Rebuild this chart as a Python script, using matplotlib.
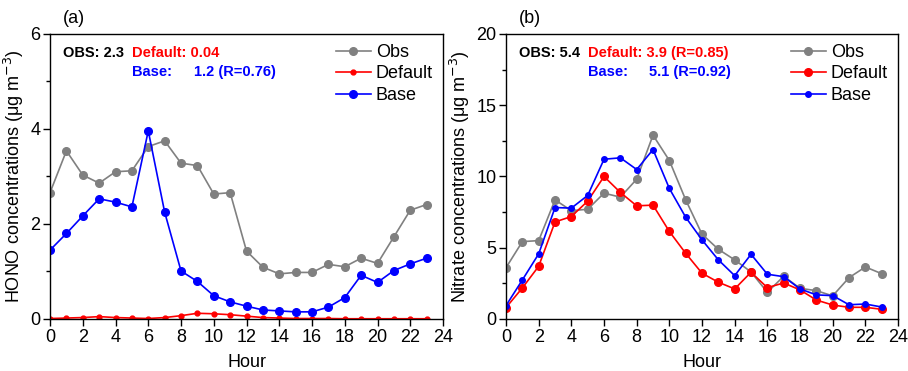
import numpy as np
import matplotlib
matplotlib.use("Agg")
import matplotlib.pyplot as plt
from matplotlib.ticker import MultipleLocator

plt.rcParams['font.family'] = ['Liberation Sans', 'DejaVu Sans']

hours = np.arange(24)

# (a) HONO
hono_obs = [2.66, 3.54, 3.03, 2.86, 3.10, 3.12, 3.63, 3.75, 3.28, 3.23, 2.63, 2.66,
            1.43, 1.09, 0.95, 0.98, 0.98, 1.15, 1.10, 1.28, 1.17, 1.73, 2.29, 2.41]
hono_default = [0.01, 0.02, 0.03, 0.05, 0.03, 0.02, 0.01, 0.03, 0.07, 0.12, 0.11, 0.09,
                0.06, 0.03, 0.02, 0.01, 0.01, 0.01, 0.005, 0.005, 0.005, 0.005, 0.005, 0.005]
hono_base = [1.45, 1.80, 2.17, 2.53, 2.46, 2.36, 3.96, 2.25, 1.01, 0.79, 0.49, 0.36,
             0.27, 0.19, 0.17, 0.15, 0.15, 0.25, 0.45, 0.92, 0.77, 1.02, 1.16, 1.28]

# (b) nitrate
no3_obs = [3.6, 5.43, 5.5, 8.36, 7.6, 7.7, 8.83, 8.55, 9.81, 12.9, 11.12, 8.36,
           5.95, 4.89, 4.15, 3.3, 1.87, 3.0, 2.15, 1.99, 1.62, 2.9, 3.65, 3.18]
no3_default = [0.8, 2.18, 3.7, 6.81, 7.19, 8.27, 10.0, 8.88, 7.94, 7.99, 6.14, 4.61,
               3.21, 2.58, 2.11, 3.28, 2.2, 2.53, 2.04, 1.33, 0.98, 0.82, 0.82, 0.68]
no3_base = [0.94, 2.74, 4.57, 7.82, 7.78, 8.67, 11.21, 11.31, 10.49, 11.89, 9.16, 7.14,
            5.55, 4.15, 3.04, 4.54, 3.14, 2.97, 2.11, 1.69, 1.64, 1.0, 1.05, 0.84]

GRAY, RED, BLUE = '#808080', '#ff0000', '#0000ff'

fig = plt.figure(figsize=(9.08, 3.71), dpi=100)
ax1 = fig.add_axes([0.0551, 0.1402, 0.4328, 0.7682])
ax2 = fig.add_axes([0.5573, 0.1402, 0.4317, 0.7682])


def style(ax, ymax, ymajor, ylabel):
    ax.set_xlim(0, 24)
    ax.set_ylim(0, ymax)
    ax.xaxis.set_major_locator(MultipleLocator(2))
    ax.yaxis.set_major_locator(MultipleLocator(ymajor))
    ax.yaxis.set_minor_locator(MultipleLocator(ymajor / 2))
    ax.tick_params(which='both', direction='out', top=False, right=False,
                   labelsize=13, width=1)
    ax.tick_params(which='major', length=5, pad=2)
    ax.tick_params(which='minor', length=3)
    for s in ax.spines.values():
        s.set_linewidth(1)
    ax.set_xlabel('Hour', fontsize=13, labelpad=6)
    ax.set_ylabel(ylabel, fontsize=13, labelpad=3)


def notes(ax, obs, default, base_val):
    kw = dict(transform=ax.transAxes, fontsize=10.5, fontweight='bold', va='center')
    ax.text(0.033, 0.933, obs, **kw)
    ax.text(0.209, 0.933, default, color=RED, **kw)
    ax.text(0.209, 0.867, 'Base:', color=BLUE, **kw)
    ax.text(0.366, 0.867, base_val, color=BLUE, **kw)
    ax.legend(loc='upper right', frameon=False, fontsize=13, handlelength=1.9,
              handletextpad=0.3, labelspacing=0.25, borderaxespad=0.15)


# panel (a)
ax1.plot(hours, hono_obs, '-o', color=GRAY, lw=1.2, ms=5.5, label='Obs')
ax1.plot(hours, hono_default, '-o', color=RED, lw=1.2, ms=3.5, label='Default')
ax1.plot(hours, hono_base, '-o', color=BLUE, lw=1.2, ms=5.5, label='Base')
style(ax1, 6, 2, 'HONO concentrations (μg m$^{-3}$)')
ax1.text(0.033, 1.025, '(a)', transform=ax1.transAxes, fontsize=13, ha='left', va='bottom')
notes(ax1, 'OBS: 2.3', 'Default: 0.04', '1.2 (R=0.76)')

# panel (b)
ax2.plot(hours, no3_obs, '-o', color=GRAY, lw=1.2, ms=5.5, label='Obs')
ax2.plot(hours, no3_default, '-o', color=RED, lw=1.2, ms=5.5, label='Default')
ax2.plot(hours, no3_base, '-o', color=BLUE, lw=1.2, ms=4, label='Base')
style(ax2, 20, 5, 'Nitrate concentrations (μg m$^{-3}$)')
ax2.text(0.033, 1.025, '(b)', transform=ax2.transAxes, fontsize=13, ha='left', va='bottom')
notes(ax2, 'OBS: 5.4', 'Default: 3.9 (R=0.85)', '5.1 (R=0.92)')

fig.savefig('out.png', dpi=100)
